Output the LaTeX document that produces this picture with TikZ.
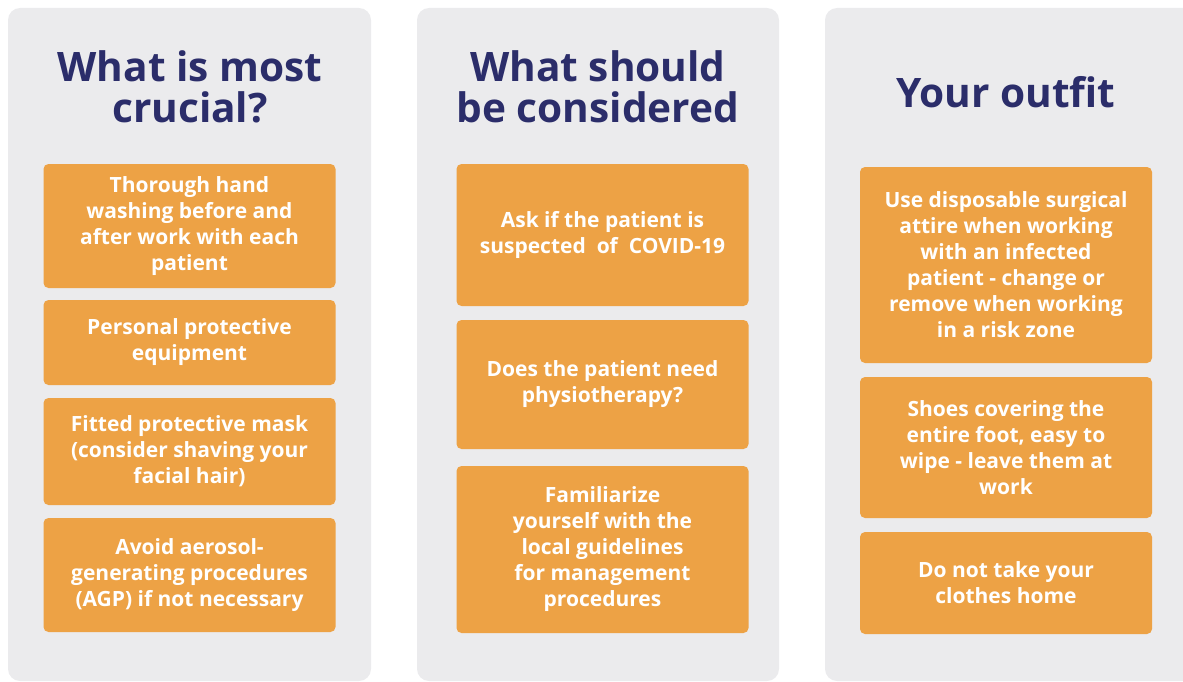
\documentclass[tikz,border=0pt]{standalone}
\usepackage{fontspec}
\setmainfont{Open Sans}
\newfontfamily\tipfont{Open Sans Bold}
\definecolor{panelgray}{HTML}{EBEBED}
\definecolor{tiporange}{HTML}{EDA245}
\definecolor{titlenavy}{HTML}{2B2D6A}

\begin{document}
\begin{tikzpicture}[x=1pt,y=-1pt,
    panel/.style={fill=panelgray,rounded corners=12pt},
    head/.style={text=titlenavy,font=\fontsize{40.6}{40}\selectfont\bfseries,anchor=base,inner sep=0pt},
    tip/.style={fill=tiporange,rounded corners=5pt,text=white,align=center,inner sep=0pt,
        font=\tipfont\fontsize{21}{26}\selectfont,minimum width=292pt}]
    \useasboundingbox (0,0) rectangle (1183,682);
    \fill[panel] (8,8) rectangle (371,681);
    \fill[panel] (417,8) rectangle (779,681);
    \fill[panel] (825,8) rectangle (1196,681);

    \node[head] (crucial1) at (190,82) {What is most};
    \node[head] (crucial2) at (190,123) {crucial?};
    \node[head] (consider1) at (598,82) {What should};
    \node[head] (consider2) at (598,123) {be considered};
    \node[head] (outfit) at (1006,108) {Your outfit};

    \node[tip,minimum height=124pt] (hands) at (189.5,226) {Thorough hand\\washing before and\\after work with each\\patient};
    \node[tip,minimum height=85pt] (ppe) at (189.5,342.5) {Personal protective\\equipment};
    \node[tip,minimum height=107pt] (mask) at (189.5,451.5) {Fitted protective mask\\(consider shaving your\\facial hair)};
    \node[tip,minimum height=114pt] (agp) at (189.5,575) {Avoid aerosol-\\generating procedures\\(AGP) if not necessary};

    \node[tip,minimum height=142pt] (covid) at (602.5,235) {Ask if the patient is\\suspected\ \ of\ \ COVID-19};
    \node[tip,minimum height=129pt] (physio) at (602.5,384.5) {Does the patient need\\physiotherapy?};
    \node[tip,minimum height=167pt] (rules) at (602.5,549.5) {Familiarize\\yourself with the\\local guidelines\\for management\\procedures};

    \node[tip,minimum height=196pt] (attire) at (1006,265) {Use disposable surgical\\attire when working\\with an infected\\patient - change or\\remove when working\\in a risk zone};
    \node[tip,minimum height=141pt] (shoes) at (1006,447.5) {Shoes covering the\\entire foot, easy to\\wipe - leave them at\\work};
    \node[tip,minimum height=102pt] (clothes) at (1006,583) {Do not take your\\clothes home};
\end{tikzpicture}
\end{document}
